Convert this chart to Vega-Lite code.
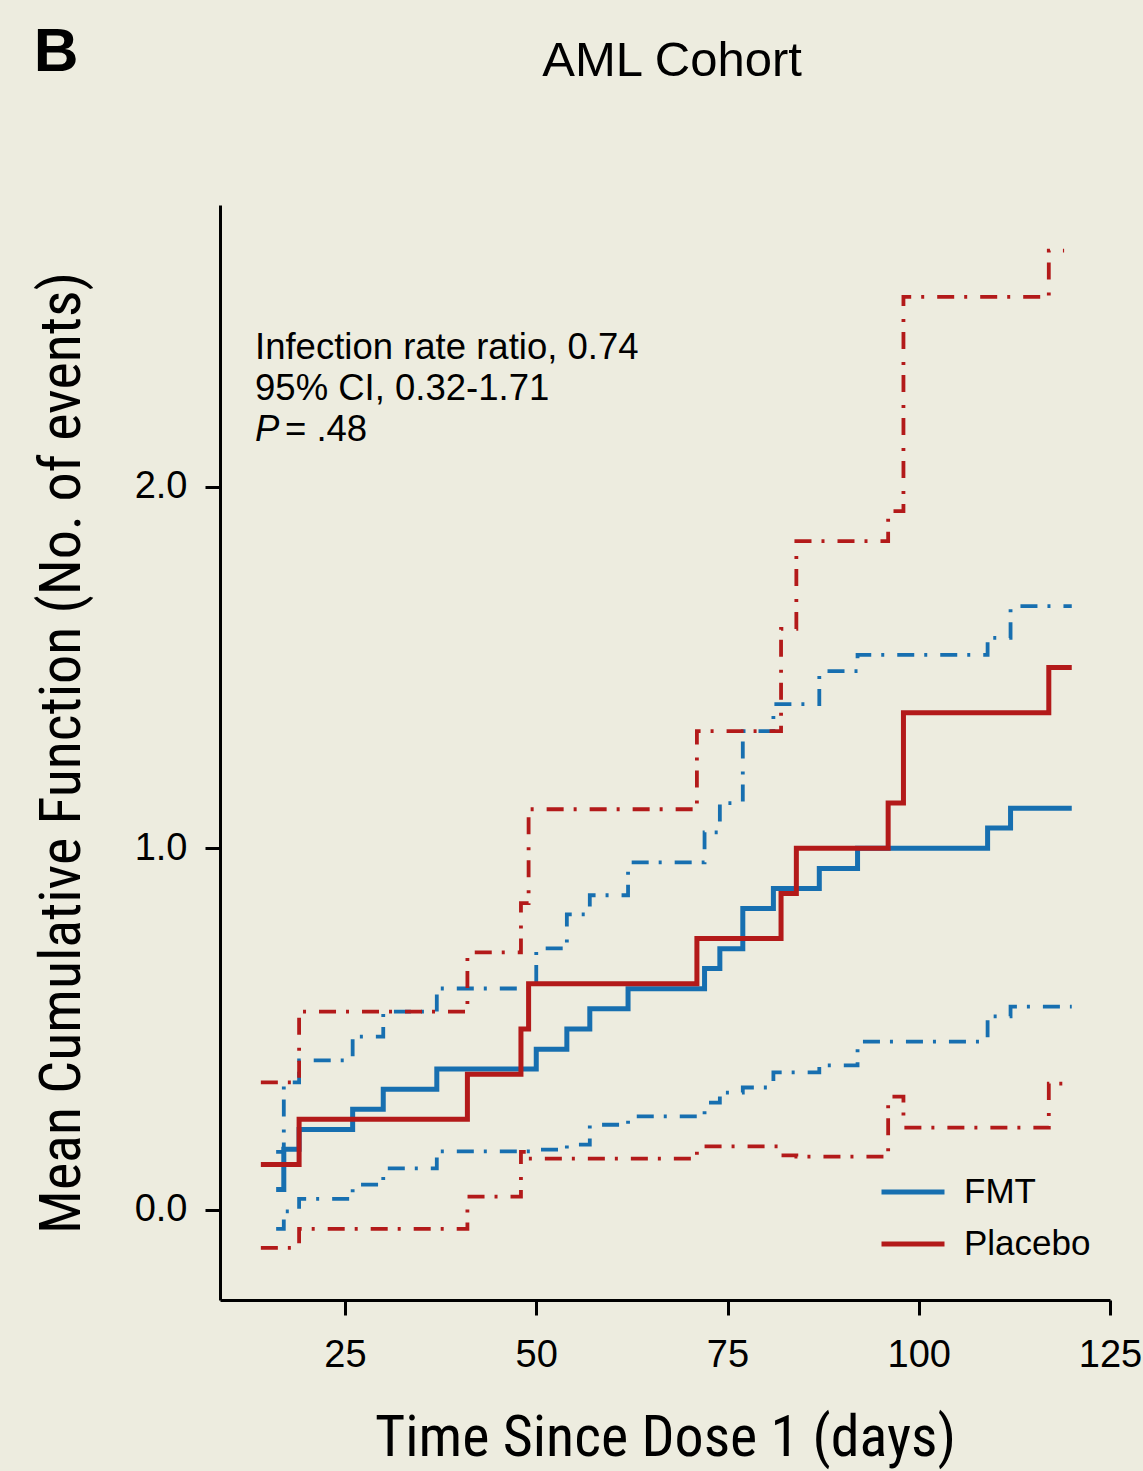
{
  "$schema": "https://vega.github.io/schema/vega-lite/v6.json",
  "width": 890,
  "height": 1095,
  "autosize": {"type": "none"},
  "padding": {"left": 220, "top": 205, "right": 33, "bottom": 171},
  "background": "#edecdf",
  "view": {"stroke": null},
  "datasets": {
    "curves": [
      {"group": "FMT", "band": "mean", "t": 16, "v": 0.056},
      {"group": "FMT", "band": "mean", "t": 17, "v": 0.167},
      {"group": "FMT", "band": "mean", "t": 19, "v": 0.222},
      {"group": "FMT", "band": "mean", "t": 26, "v": 0.278},
      {"group": "FMT", "band": "mean", "t": 30, "v": 0.333},
      {"group": "FMT", "band": "mean", "t": 37, "v": 0.389},
      {"group": "FMT", "band": "mean", "t": 50, "v": 0.444},
      {"group": "FMT", "band": "mean", "t": 54, "v": 0.5},
      {"group": "FMT", "band": "mean", "t": 57, "v": 0.556},
      {"group": "FMT", "band": "mean", "t": 62, "v": 0.611},
      {"group": "FMT", "band": "mean", "t": 72, "v": 0.667},
      {"group": "FMT", "band": "mean", "t": 74, "v": 0.722},
      {"group": "FMT", "band": "mean", "t": 77, "v": 0.833},
      {"group": "FMT", "band": "mean", "t": 81, "v": 0.889},
      {"group": "FMT", "band": "mean", "t": 87, "v": 0.944},
      {"group": "FMT", "band": "mean", "t": 92, "v": 1.0},
      {"group": "FMT", "band": "mean", "t": 109, "v": 1.056},
      {"group": "FMT", "band": "mean", "t": 112, "v": 1.111},
      {"group": "FMT", "band": "mean", "t": 120, "v": 1.111},

      {"group": "FMT", "band": "upper", "t": 16, "v": 0.16},
      {"group": "FMT", "band": "upper", "t": 17, "v": 0.352},
      {"group": "FMT", "band": "upper", "t": 19, "v": 0.413},
      {"group": "FMT", "band": "upper", "t": 26, "v": 0.479},
      {"group": "FMT", "band": "upper", "t": 30, "v": 0.548},
      {"group": "FMT", "band": "upper", "t": 37, "v": 0.612},
      {"group": "FMT", "band": "upper", "t": 50, "v": 0.723},
      {"group": "FMT", "band": "upper", "t": 54, "v": 0.817},
      {"group": "FMT", "band": "upper", "t": 57, "v": 0.87},
      {"group": "FMT", "band": "upper", "t": 62, "v": 0.961},
      {"group": "FMT", "band": "upper", "t": 72, "v": 1.044},
      {"group": "FMT", "band": "upper", "t": 74, "v": 1.125},
      {"group": "FMT", "band": "upper", "t": 77, "v": 1.324},
      {"group": "FMT", "band": "upper", "t": 81, "v": 1.399},
      {"group": "FMT", "band": "upper", "t": 87, "v": 1.49},
      {"group": "FMT", "band": "upper", "t": 92, "v": 1.535},
      {"group": "FMT", "band": "upper", "t": 109, "v": 1.582},
      {"group": "FMT", "band": "upper", "t": 112, "v": 1.67},
      {"group": "FMT", "band": "upper", "t": 120, "v": 1.67},

      {"group": "FMT", "band": "lower", "t": 16, "v": -0.053},
      {"group": "FMT", "band": "lower", "t": 17, "v": -0.005},
      {"group": "FMT", "band": "lower", "t": 19, "v": 0.03},
      {"group": "FMT", "band": "lower", "t": 26, "v": 0.069},
      {"group": "FMT", "band": "lower", "t": 30, "v": 0.114},
      {"group": "FMT", "band": "lower", "t": 37, "v": 0.161},
      {"group": "FMT", "band": "lower", "t": 50, "v": 0.166},
      {"group": "FMT", "band": "lower", "t": 54, "v": 0.18},
      {"group": "FMT", "band": "lower", "t": 57, "v": 0.235},
      {"group": "FMT", "band": "lower", "t": 62, "v": 0.258},
      {"group": "FMT", "band": "lower", "t": 72, "v": 0.296},
      {"group": "FMT", "band": "lower", "t": 74, "v": 0.324},
      {"group": "FMT", "band": "lower", "t": 77, "v": 0.338},
      {"group": "FMT", "band": "lower", "t": 81, "v": 0.38},
      {"group": "FMT", "band": "lower", "t": 87, "v": 0.399},
      {"group": "FMT", "band": "lower", "t": 92, "v": 0.465},
      {"group": "FMT", "band": "lower", "t": 109, "v": 0.535},
      {"group": "FMT", "band": "lower", "t": 112, "v": 0.562},
      {"group": "FMT", "band": "lower", "t": 120, "v": 0.562},

      {"group": "Placebo", "band": "mean", "t": 14, "v": 0.125},
      {"group": "Placebo", "band": "mean", "t": 19, "v": 0.25},
      {"group": "Placebo", "band": "mean", "t": 41, "v": 0.375},
      {"group": "Placebo", "band": "mean", "t": 48, "v": 0.5},
      {"group": "Placebo", "band": "mean", "t": 49, "v": 0.625},
      {"group": "Placebo", "band": "mean", "t": 71, "v": 0.75},
      {"group": "Placebo", "band": "mean", "t": 82, "v": 0.875},
      {"group": "Placebo", "band": "mean", "t": 84, "v": 1.0},
      {"group": "Placebo", "band": "mean", "t": 96, "v": 1.125},
      {"group": "Placebo", "band": "mean", "t": 98, "v": 1.375},
      {"group": "Placebo", "band": "mean", "t": 117, "v": 1.5},
      {"group": "Placebo", "band": "mean", "t": 120, "v": 1.5},

      {"group": "Placebo", "band": "upper", "t": 14, "v": 0.352},
      {"group": "Placebo", "band": "upper", "t": 19, "v": 0.548},
      {"group": "Placebo", "band": "upper", "t": 41, "v": 0.712},
      {"group": "Placebo", "band": "upper", "t": 48, "v": 0.848},
      {"group": "Placebo", "band": "upper", "t": 49, "v": 1.108},
      {"group": "Placebo", "band": "upper", "t": 71, "v": 1.324},
      {"group": "Placebo", "band": "upper", "t": 82, "v": 1.607},
      {"group": "Placebo", "band": "upper", "t": 84, "v": 1.85},
      {"group": "Placebo", "band": "upper", "t": 96, "v": 1.933},
      {"group": "Placebo", "band": "upper", "t": 98, "v": 2.526},
      {"group": "Placebo", "band": "upper", "t": 117, "v": 2.654},
      {"group": "Placebo", "band": "upper", "t": 119, "v": 2.654},

      {"group": "Placebo", "band": "lower", "t": 14, "v": -0.106},
      {"group": "Placebo", "band": "lower", "t": 19, "v": -0.053},
      {"group": "Placebo", "band": "lower", "t": 41, "v": 0.036},
      {"group": "Placebo", "band": "lower", "t": 48, "v": 0.16},
      {"group": "Placebo", "band": "lower", "t": 49, "v": 0.141},
      {"group": "Placebo", "band": "lower", "t": 71, "v": 0.175},
      {"group": "Placebo", "band": "lower", "t": 82, "v": 0.15},
      {"group": "Placebo", "band": "lower", "t": 84, "v": 0.147},
      {"group": "Placebo", "band": "lower", "t": 96, "v": 0.313},
      {"group": "Placebo", "band": "lower", "t": 98, "v": 0.227},
      {"group": "Placebo", "band": "lower", "t": 117, "v": 0.349},
      {"group": "Placebo", "band": "lower", "t": 120, "v": 0.349}
    ]
  },
  "layer": [
    {
      "data": {"name": "curves"},
      "transform": [{"filter": "datum.band !== 'mean'"}],
      "mark": {"type": "line", "interpolate": "step-after", "strokeWidth": 3.8, "strokeDash": [17, 10, 3, 13]},
      "encoding": {
        "x": {
          "field": "t",
          "type": "quantitative",
          "scale": {"domain": [8.66, 125], "nice": false, "zero": false},
          "axis": {
            "values": [25, 50, 75, 100, 125],
            "title": "Time Since Dose 1 (days)",
            "grid": false,
            "domainColor": "black",
            "domainWidth": 3,
            "tickColor": "black",
            "tickWidth": 3,
            "tickSize": 15,
            "labelFont": "Liberation Sans",
            "labelFontSize": 38,
            "labelColor": "black",
            "labelPadding": 21,
            "labelFlush": false,
            "labelOverlap": false,
            "titleFont": "Liberation Sans Narrow, Roboto Condensed, DejaVu Sans Condensed, Liberation Sans",
            "titleFontSize": 58,
            "titleFontWeight": "normal",
            "titleColor": "black",
            "titlePadding": 35
          }
        },
        "y": {
          "field": "v",
          "type": "quantitative",
          "scale": {"domain": [-0.25, 2.78], "nice": false, "zero": false},
          "axis": {
            "values": [0, 1, 2],
            "format": ".1f",
            "title": "Mean Cumulative Function (No. of events)",
            "grid": false,
            "domainColor": "black",
            "domainWidth": 3,
            "tickColor": "black",
            "tickWidth": 3,
            "tickSize": 15,
            "labelFont": "Liberation Sans",
            "labelFontSize": 38,
            "labelColor": "black",
            "labelPadding": 18,
            "labelFlush": false,
            "titleFont": "Liberation Sans Narrow, Roboto Condensed, DejaVu Sans Condensed, Liberation Sans",
            "titleFontSize": 58,
            "titleFontWeight": "normal",
            "titleColor": "black",
            "titlePadding": 43
          }
        },
        "color": {
          "field": "group",
          "type": "nominal",
          "scale": {"domain": ["FMT", "Placebo"], "range": ["#176fb0", "#b31a1a"]},
          "legend": {
            "title": null,
            "orient": "none",
            "legendX": 659,
            "legendY": 953,
            "symbolType": "stroke",
            "symbolSize": 3969,
            "symbolStrokeWidth": 5,
            "symbolDash": [1, 0],
            "labelFont": "Liberation Sans",
            "labelFontSize": 35,
            "labelColor": "black",
            "labelOffset": 17,
            "rowPadding": -2
          }
        },
        "detail": {"field": "band"}
      }
    },
    {
      "data": {"name": "curves"},
      "transform": [{"filter": "datum.band === 'mean'"}],
      "mark": {"type": "line", "interpolate": "step-after", "strokeWidth": 5},
      "encoding": {
        "x": {"field": "t", "type": "quantitative"},
        "y": {"field": "v", "type": "quantitative"},
        "color": {"field": "group", "type": "nominal"}
      }
    },
    {
      "data": {"values": [{"label": "stats"}]},
      "mark": {"type": "text", "align": "left", "baseline": "alphabetic", "font": "Liberation Sans", "fontSize": 36.5, "lineHeight": 41, "color": "black"},
      "encoding": {
        "x": {"datum": 13.24, "type": "quantitative"},
        "y": {"datum": 2.355, "type": "quantitative"},
        "text": {"value": ["Infection rate ratio, 0.74", "95% CI, 0.32-1.71"]}
      }
    },
    {
      "data": {"values": [{"label": "P"}]},
      "mark": {"type": "text", "align": "left", "baseline": "alphabetic", "font": "Liberation Sans", "fontSize": 36.5, "fontStyle": "italic", "color": "black"},
      "encoding": {
        "x": {"datum": 13.24, "type": "quantitative"},
        "y": {"datum": 2.127, "type": "quantitative"},
        "text": {"field": "label"}
      }
    },
    {
      "data": {"values": [{"label": "= .48"}]},
      "mark": {"type": "text", "align": "left", "baseline": "alphabetic", "font": "Liberation Sans", "fontSize": 36.5, "color": "black"},
      "encoding": {
        "x": {"datum": 17.15, "type": "quantitative"},
        "y": {"datum": 2.127, "type": "quantitative"},
        "text": {"field": "label"}
      }
    },
    {
      "data": {"values": [{"label": "AML Cohort"}]},
      "mark": {"type": "text", "align": "center", "baseline": "alphabetic", "font": "Liberation Sans", "fontSize": 49, "color": "black"},
      "encoding": {
        "x": {"datum": 67.75, "type": "quantitative"},
        "y": {"datum": 3.138, "type": "quantitative"},
        "text": {"field": "label"}
      }
    },
    {
      "data": {"values": [{"label": "B"}]},
      "mark": {"type": "text", "align": "left", "baseline": "alphabetic", "font": "Liberation Sans", "fontSize": 62, "fontWeight": "bold", "color": "black"},
      "encoding": {
        "x": {"datum": -15.7, "type": "quantitative"},
        "y": {"datum": 3.152, "type": "quantitative"},
        "text": {"field": "label"}
      }
    }
  ]
}
